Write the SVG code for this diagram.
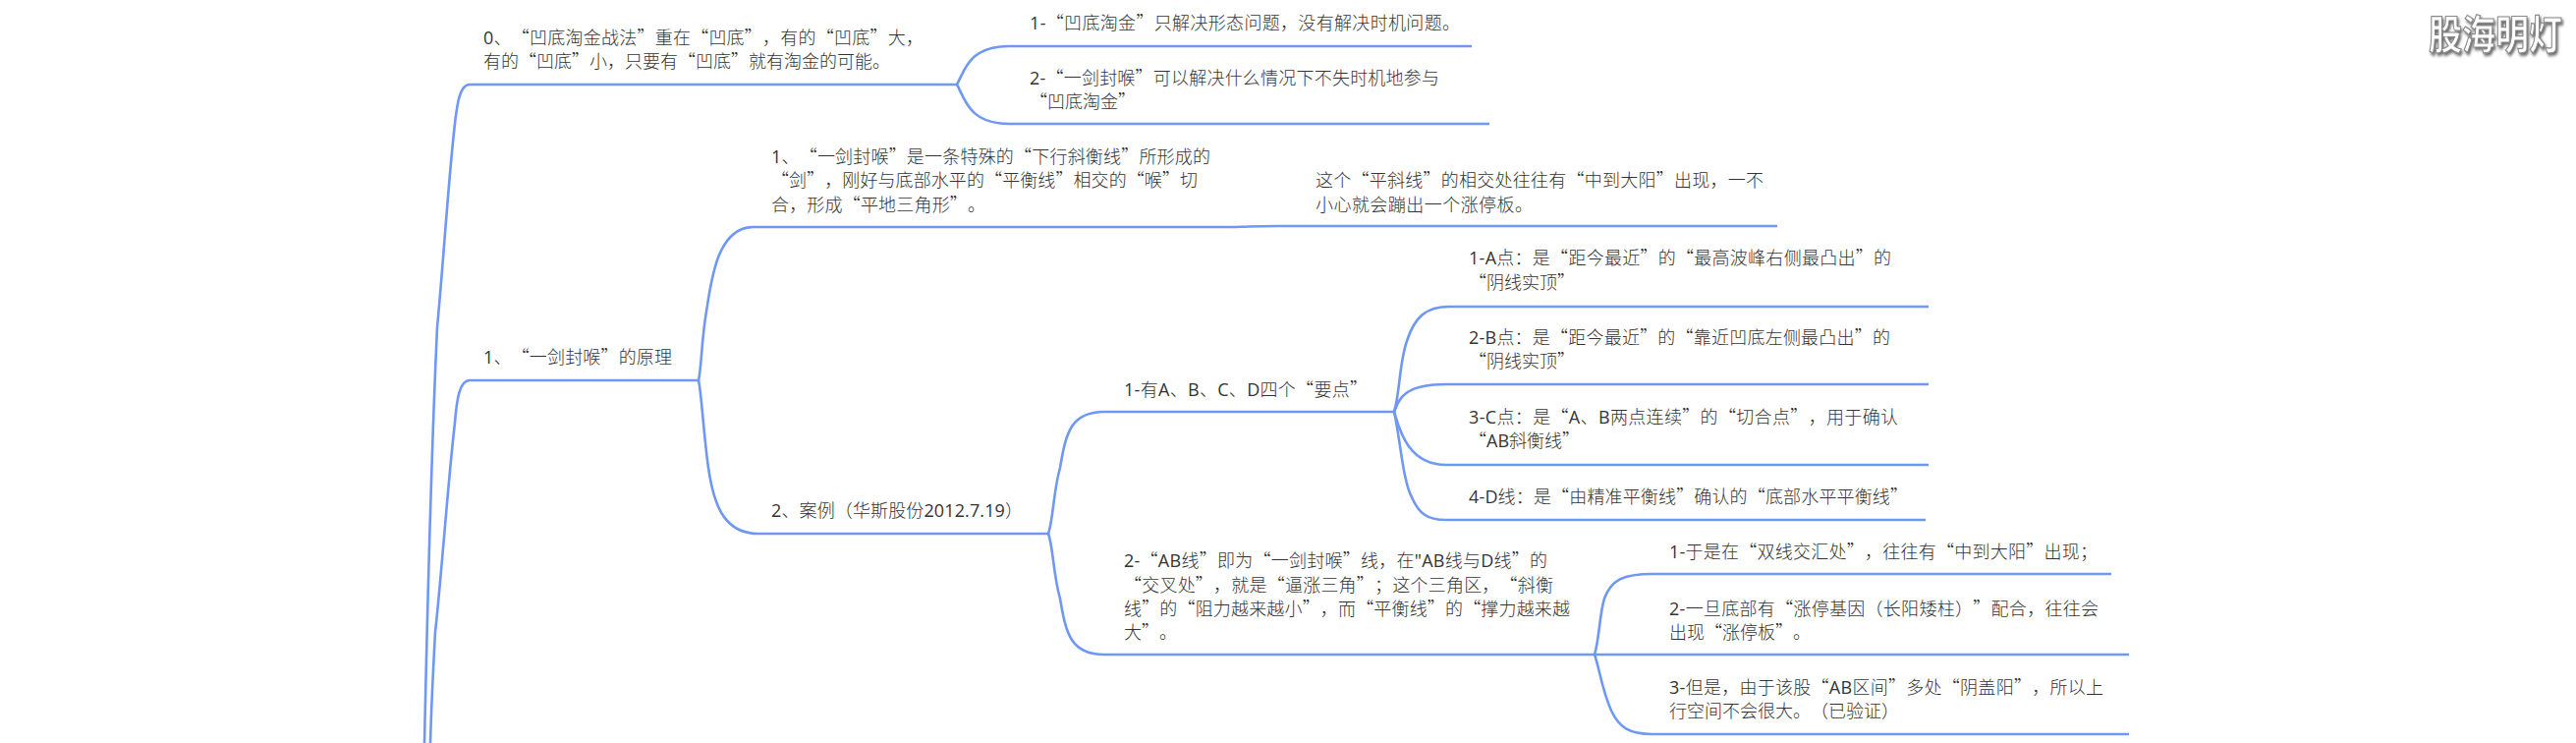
<svg xmlns="http://www.w3.org/2000/svg" width="2622" height="756" viewBox="0 0 2622 756">
<style>
text{font-family:"Noto Sans CJK SC","Noto Sans",sans-serif;font-size:18px;fill:#333;font-weight:300;text-spacing-trim:space-all;font-kerning:none}
.l{font-family:"Open Sans","Noto Sans",sans-serif;font-weight:400}
.c{fill:none;stroke:#6f98f5;stroke-width:2.6;stroke-linecap:butt}
text.wm{font-size:34px;font-weight:700;fill:#fff;stroke:#8a8a8a;stroke-width:1}
</style>
<defs><filter id="sh" x="-10%" y="-20%" width="125%" height="150%"><feDropShadow dx="1.5" dy="2" stdDeviation="1.2" flood-color="#666"/></filter></defs>
<rect width="2622" height="756" fill="#fff"/>
<g id="connectors">
<path class="c" d="M974 86H478C468 86 465 105 462 135C456 190 451 270 445 333C440 440 435 620 432 756"/>
<path class="c" d="M711 387H478C468 387 465 405 463 430C456 490 449 590 443 643C441 680 439 720 438 756"/>
<path class="c" d="M974 86C982 72 986 47 1027 47H1498"/>
<path class="c" d="M974 86C982 100 986 126 1027 126H1516"/>
<path class="c" d="M711 387C714 375 714 345 719 317C724 285 730 231 767 231H1254C1262 231 1272 230 1300 230H1809"/>
<path class="c" d="M711 387C714 400 716 440 721 476C726 510 735 543 772 543H1067"/>
<path class="c" d="M1067 543C1072 530 1072 500 1079 476C1085 440 1090 419 1124 419H1419"/>
<path class="c" d="M1067 543C1072 556 1072 585 1079 609C1085 645 1090 666 1124 666H2167"/>
<path class="c" d="M1419 419C1425 400 1424 370 1432 347C1440 322 1452 312 1475 312H1963"/>
<path class="c" d="M1419 419C1424 405 1430 391 1472 391H1963"/>
<path class="c" d="M1419 419C1424 435 1432 473 1472 473H1963"/>
<path class="c" d="M1419 419C1425 445 1428 490 1437 506C1444 522 1452 529 1472 529H1960"/>
<path class="c" d="M1623 666C1628 650 1628 625 1633 609C1640 590 1652 584 1682 584H2149"/>
<path class="c" d="M1623 666C1628 680 1630 700 1640 723C1648 740 1658 747 1682 747H2167"/>
</g>
<g id="n0"><text x="492" y="45" textLength="448"><tspan class="l">0</tspan>、“凹底淘金战法”重在“凹底”，有的“凹底”大，</text><text x="492" y="69">有的“凹底”小，只要有“凹底”就有淘金的可能。</text></g>
<g id="n01"><text x="1048" y="30" textLength="438"><tspan class="l">1-</tspan>“凹底淘金”只解决形态问题，没有解决时机问题。</text></g>
<g id="n02"><text x="1048" y="86" textLength="417"><tspan class="l">2-</tspan>“一剑封喉”可以解决什么情况下不失时机地参与</text><text x="1048" y="110">“凹底淘金”</text></g>
<g id="n1"><text x="492" y="370" textLength="192"><tspan class="l">1</tspan>、“一剑封喉”的原理</text></g>
<g id="n11"><text x="785" y="166" textLength="447"><tspan class="l">1</tspan>、“一剑封喉”是一条特殊的“下行斜衡线”所形成的</text><text x="785" y="190" textLength="434">“剑”，刚好与底部水平的“平衡线”相交的“喉”切</text><text x="785" y="215" textLength="218">合，形成“平地三角形”。</text></g>
<g id="n111"><text x="1339" y="190" textLength="456">这个“平斜线”的相交处往往有“中到大阳”出现，一不</text><text x="1339" y="215" textLength="221">小心就会蹦出一个涨停板。</text></g>
<g id="n12"><text x="785" y="526" textLength="256"><tspan class="l">2</tspan>、案例（华斯股份<tspan class="l">2012.7.19</tspan>）</text></g>
<g id="n121"><text x="1144" y="403" textLength="248"><tspan class="l">1-</tspan>有<tspan class="l">A</tspan>、<tspan class="l">B</tspan>、<tspan class="l">C</tspan>、<tspan class="l">D</tspan>四个“要点”</text></g>
<g id="n1211"><text x="1495" y="269" textLength="430"><tspan class="l">1-A</tspan>点：是“距今最近”的“最高波峰右侧最凸出”的</text><text x="1495" y="294">“阴线实顶”</text></g>
<g id="n1212"><text x="1495" y="350" textLength="429"><tspan class="l">2-B</tspan>点：是“距今最近”的“靠近凹底左侧最凸出”的</text><text x="1495" y="374">“阴线实顶”</text></g>
<g id="n1213"><text x="1495" y="431" textLength="437"><tspan class="l">3-C</tspan>点：是“<tspan class="l">A</tspan>、<tspan class="l">B</tspan>两点连续”的“切合点”，用于确认</text><text x="1495" y="455">“<tspan class="l">AB</tspan>斜衡线”</text></g>
<g id="n1214"><text x="1495" y="512" textLength="447"><tspan class="l">4-D</tspan>线：是“由精准平衡线”确认的“底部水平平衡线”</text></g>
<g id="n122"><text x="1144" y="577" textLength="431"><tspan class="l">2-</tspan>“<tspan class="l">AB</tspan>线”即为“一剑封喉”线，在<tspan class="l">"AB</tspan>线与<tspan class="l">D</tspan>线”的</text><text x="1144" y="602" textLength="437">“交叉处”，就是“逼涨三角”；这个三角区，“斜衡</text><text x="1144" y="626" textLength="454">线”的“阻力越来越小”，而“平衡线”的“撑力越来越</text><text x="1144" y="650">大”。</text></g>
<g id="n1221"><text x="1699" y="568" textLength="436"><tspan class="l">1-</tspan>于是在“双线交汇处”，往往有“中到大阳”出现；</text></g>
<g id="n1222"><text x="1699" y="626" textLength="437"><tspan class="l">2-</tspan>一旦底部有“涨停基因（长阳矮柱）”配合，往往会</text><text x="1699" y="650">出现“涨停板”。</text></g>
<g id="n1223"><text x="1699" y="706" textLength="442"><tspan class="l">3-</tspan>但是，由于该股“<tspan class="l">AB</tspan>区间”多处“阴盖阳”，所以上</text><text x="1699" y="730">行空间不会很大。（已验证）</text></g>
<g id="watermark"><text class="wm" transform="translate(2472 50) scale(1 1.2)" filter="url(#sh)">股海明灯</text></g>
</svg>
